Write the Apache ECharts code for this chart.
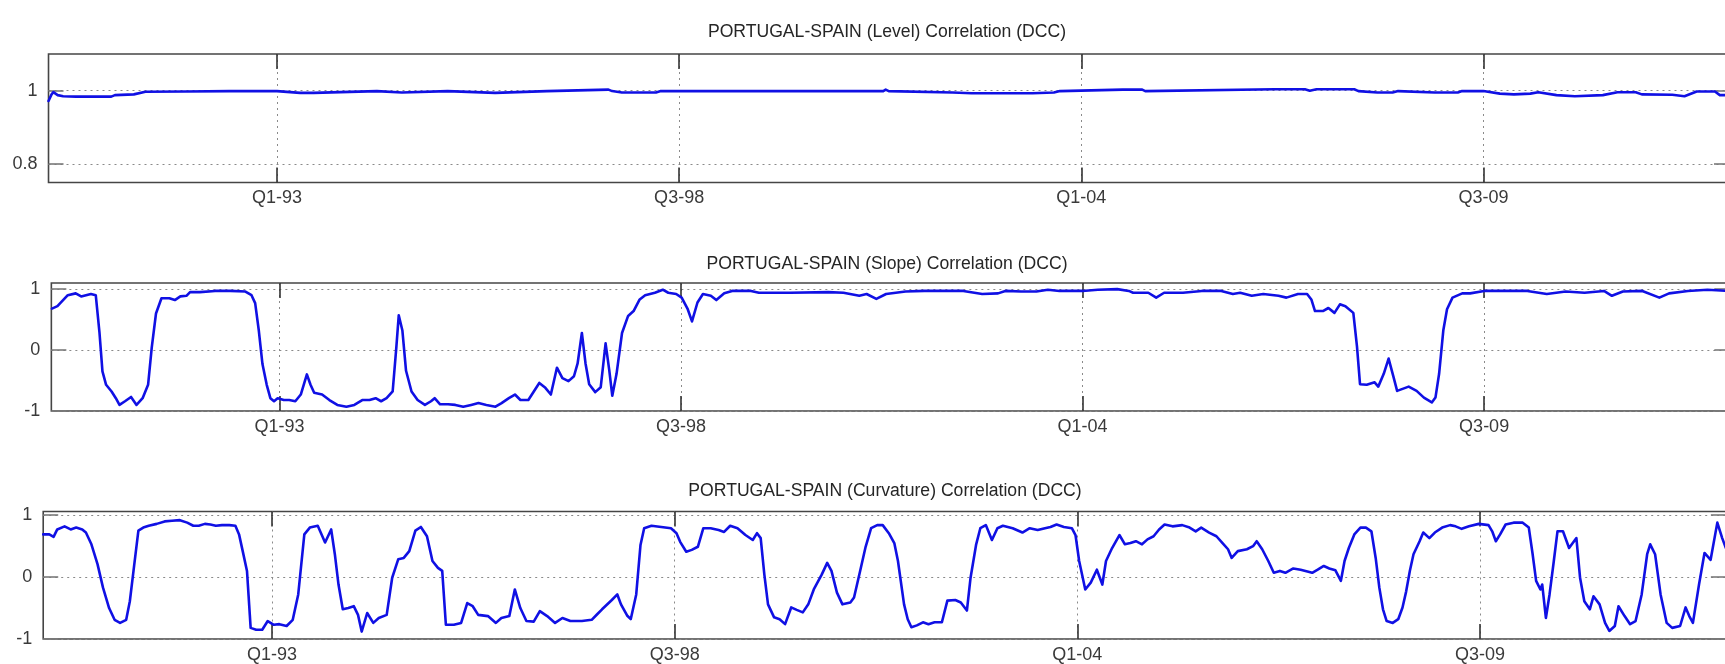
<!DOCTYPE html>
<html>
<head>
<meta charset="utf-8">
<script src="https://cdn.jsdelivr.net/npm/echarts@6/dist/echarts.min.js"></script>
<style>
html,body{margin:0;padding:0;background:#ffffff;}
#chart{width:1725px;height:664px;}
</style>
</head>
<body>
<div id="chart"></div>
<script>
// ---------------- DATA ----------------
// time is expressed in months relative to January 1993 (Q1-93 = 0)
const titles = [
  'PORTUGAL-SPAIN (Level) Correlation (DCC)',
  'PORTUGAL-SPAIN (Slope) Correlation (DCC)',
  'PORTUGAL-SPAIN (Curvature) Correlation (DCC)'
];
const xTickMonths = [0, 66, 132, 198];
const xTickLabels = ['Q1-93', 'Q3-98', 'Q1-04', 'Q3-09'];
const levelTicks = [0.8, 1];
const slopeTicks = [-1, 0, 1];
const curvTicks = [-1, 0, 1];

// [month, correlation]
const levelData = [[-37.5,0.972],[-37,0.99],[-36.7,0.996],[-36,0.988],[-35.1,0.985],[-33,0.984],[-30,0.984],[-27.2,0.984],[-26.6,0.988],[-23.5,0.99],[-21.6,0.997],[-15,0.998],[-7.8,0.999],[0,0.999],[3.8,0.994],[6,0.994],[6.3,0.999],[16.4,0.999],[16.5,0.995],[20.5,0.995],[20.6,0.999],[28,0.999],[28.1,0.994],[35.8,0.994],[36,0.999],[44.3,0.999],[44.4,1.003],[54.4,1.003],[55,0.999],[56.6,0.995],[62.2,0.995],[63,0.999],[68.5,0.999],[68.8,1.003],[69.5,0.999],[72.7,0.999],[73,1.003],[73.5,0.999],[99.5,0.999],[99.9,1.003],[100.4,0.999],[110.9,0.995],[114,0.993],[124,0.993],[127.5,0.995],[128.5,0.999],[138.8,1.003],[142,1.003],[142.5,0.999],[163.7,1.004],[168.7,1.004],[169.5,1.0],[170.6,1.004],[176.8,1.004],[177.5,0.999],[180.6,0.995],[183.1,0.995],[184,0.999],[190,0.995],[193.8,0.995],[194.5,0.999],[198,0.999],[200.7,0.992],[203,0.99],[205.7,0.992],[207,0.996],[210,0.988],[213,0.985],[217.6,0.988],[220,0.996],[223,0.996],[224,0.99],[229,0.989],[231,0.985],[233,0.998],[236,0.998],[236.8,0.988],[238.3,0.988]];

const slopeData = [[-37.4,0.68],[-36.5,0.72],[-34.8,0.9],[-33.5,0.93],[-32.6,0.88],[-31,0.92],[-30.2,0.9],[-29.6,0.3],[-29.1,-0.35],[-28.5,-0.57],[-27.6,-0.68],[-26.9,-0.79],[-26.3,-0.9],[-25.4,-0.84],[-24.4,-0.77],[-23.5,-0.9],[-22.5,-0.79],[-21.6,-0.57],[-21,0.04],[-20.3,0.6],[-19.4,0.85],[-18.1,0.85],[-17.2,0.82],[-16.3,0.88],[-15.3,0.89],[-14.7,0.95],[-13.1,0.95],[-10.6,0.97],[-8.1,0.97],[-5.6,0.96],[-4.6,0.9],[-4,0.77],[-3.4,0.32],[-2.8,-0.23],[-2.1,-0.57],[-1.5,-0.79],[-0.9,-0.84],[-0.3,-0.79],[0.7,-0.82],[1.6,-0.82],[2.6,-0.84],[3.5,-0.73],[4.5,-0.4],[5.1,-0.57],[5.7,-0.7],[7,-0.73],[8.2,-0.82],[9.5,-0.9],[11,-0.93],[12.3,-0.9],[13.6,-0.82],[14.8,-0.82],[15.8,-0.79],[16.7,-0.84],[17.6,-0.79],[18.6,-0.68],[19.2,0.04],[19.6,0.57],[20.2,0.32],[20.8,-0.34],[21.7,-0.68],[22.7,-0.82],[23.9,-0.9],[24.9,-0.84],[25.5,-0.79],[26.4,-0.89],[27.7,-0.89],[28.9,-0.9],[30.2,-0.93],[31.5,-0.9],[32.7,-0.87],[34,-0.9],[35.5,-0.93],[36.5,-0.87],[37.7,-0.79],[38.7,-0.73],[39.6,-0.82],[40.9,-0.82],[41.8,-0.68],[42.7,-0.54],[43.7,-0.62],[44.6,-0.73],[45.6,-0.29],[46.5,-0.46],[47.5,-0.51],[48.4,-0.43],[49,-0.22],[49.7,0.28],[50.3,-0.22],[50.9,-0.56],[51.9,-0.69],[52.8,-0.61],[53.6,0.11],[54.2,-0.33],[54.7,-0.75],[55.4,-0.39],[56.3,0.28],[57.3,0.56],[58.2,0.64],[59.2,0.83],[60.1,0.9],[61.7,0.94],[63,0.99],[63.9,0.94],[65.2,0.92],[66.1,0.86],[67.1,0.67],[67.8,0.47],[68.7,0.78],[69.6,0.92],[70.9,0.89],[71.8,0.82],[73.1,0.93],[74.4,0.97],[77.5,0.97],[78.8,0.94],[83.9,0.94],[90.2,0.95],[92.7,0.94],[95.3,0.89],[96.5,0.92],[98.1,0.84],[99.7,0.92],[102.9,0.96],[106,0.97],[109.2,0.97],[112.4,0.97],[115.5,0.92],[118.1,0.93],[119.3,0.97],[121.9,0.96],[124.4,0.96],[126.3,0.99],[128.2,0.97],[132,0.97],[134.5,0.99],[137.7,1.0],[139.6,0.97],[140.3,0.94],[142.8,0.94],[144.1,0.86],[145.4,0.94],[148.5,0.94],[151.6,0.97],[154.8,0.97],[156.7,0.92],[157.9,0.94],[159.8,0.89],[161.7,0.92],[164.2,0.89],[165.5,0.86],[167.4,0.92],[168.9,0.92],[169.6,0.83],[170.2,0.64],[171.5,0.64],[172.4,0.69],[173.4,0.61],[174.3,0.75],[175.2,0.72],[176.5,0.61],[177.1,0.06],[177.6,-0.56],[178.7,-0.57],[180,-0.53],[180.6,-0.6],[181.5,-0.39],[182.3,-0.14],[183.1,-0.44],[183.7,-0.67],[185.6,-0.6],[186.9,-0.67],[188.1,-0.78],[189.4,-0.86],[190,-0.78],[190.6,-0.39],[191.3,0.33],[191.9,0.67],[192.8,0.86],[194.4,0.93],[195.7,0.93],[198,0.97],[200.7,0.97],[205.1,0.97],[208.3,0.92],[211.4,0.96],[214.5,0.94],[217.7,0.97],[219,0.89],[220.8,0.96],[224,0.97],[226.8,0.86],[228.4,0.93],[231.5,0.97],[234.7,0.99],[238.3,0.97]];

const curvData = [[-37.5,0.69],[-36.5,0.69],[-35.8,0.65],[-35.2,0.77],[-34,0.82],[-33,0.77],[-32.1,0.8],[-31.1,0.77],[-30.5,0.72],[-29.6,0.53],[-28.6,0.21],[-27.7,-0.17],[-26.7,-0.5],[-25.8,-0.69],[-24.9,-0.74],[-23.9,-0.69],[-23.3,-0.39],[-22.7,0.1],[-21.9,0.75],[-21.1,0.8],[-20.2,0.83],[-18.9,0.86],[-17.6,0.9],[-16.4,0.91],[-15.1,0.92],[-13.9,0.88],[-12.9,0.83],[-12,0.83],[-11,0.86],[-10.1,0.85],[-9.2,0.83],[-8.2,0.84],[-7,0.84],[-6,0.83],[-5.4,0.69],[-4.8,0.42],[-4.1,0.1],[-3.5,-0.82],[-2.6,-0.85],[-1.6,-0.85],[-0.7,-0.71],[0.3,-0.77],[1.2,-0.76],[2.4,-0.79],[3.4,-0.69],[4.3,-0.28],[5.3,0.69],[6.2,0.8],[7.5,0.83],[8.7,0.56],[9.7,0.77],[10.3,0.37],[10.9,-0.12],[11.6,-0.52],[12.5,-0.5],[13.4,-0.47],[14.1,-0.61],[14.7,-0.88],[15.6,-0.58],[16.6,-0.74],[17.5,-0.66],[18.8,-0.61],[19.7,-0.01],[20.7,0.29],[21.6,0.31],[22.5,0.42],[23.5,0.75],[24.4,0.81],[25.4,0.66],[26.3,0.26],[27.2,0.15],[27.9,0.1],[28.5,-0.77],[29.8,-0.77],[31,-0.74],[32,-0.42],[32.9,-0.47],[33.8,-0.61],[35.4,-0.63],[36.7,-0.74],[37.6,-0.66],[38.9,-0.63],[39.8,-0.2],[40.7,-0.5],[41.7,-0.71],[42.9,-0.72],[43.9,-0.55],[45.1,-0.63],[46.4,-0.74],[47.6,-0.66],[48.9,-0.71],[50.8,-0.71],[52.4,-0.69],[53.3,-0.6],[54.1,-0.52],[55.7,-0.37],[56.6,-0.28],[57.2,-0.44],[58.2,-0.62],[58.8,-0.68],[59.7,-0.28],[60.4,0.52],[61,0.79],[62.2,0.83],[63.8,0.81],[65.4,0.79],[66.3,0.71],[66.9,0.57],[67.9,0.41],[68.8,0.44],[69.8,0.49],[70.7,0.79],[71.9,0.79],[73.2,0.76],[74.1,0.73],[75.1,0.83],[76.3,0.79],[77.6,0.68],[78.8,0.6],[79.5,0.71],[80.1,0.63],[80.7,0.04],[81.3,-0.44],[82.3,-0.65],[83.2,-0.68],[84.1,-0.76],[85.1,-0.49],[86,-0.53],[87,-0.57],[87.9,-0.44],[88.8,-0.2],[90.1,0.04],[91,0.23],[91.7,0.1],[92.6,-0.25],[93.5,-0.44],[94.8,-0.41],[95.4,-0.33],[96.4,0.1],[97.3,0.49],[98.2,0.79],[99.2,0.84],[100.1,0.84],[101.1,0.71],[102,0.55],[102.6,0.26],[103.6,-0.44],[104.2,-0.68],[104.8,-0.81],[105.7,-0.78],[106.7,-0.73],[107.6,-0.76],[108.6,-0.73],[109.8,-0.73],[110.7,-0.38],[112,-0.37],[112.9,-0.41],[113.9,-0.54],[114.5,-0.01],[115.4,0.52],[116.1,0.79],[117,0.84],[118,0.6],[118.9,0.79],[119.8,0.83],[121.4,0.79],[123,0.72],[124.2,0.79],[125.5,0.76],[126.7,0.79],[127.6,0.81],[128.6,0.85],[129.8,0.81],[131.1,0.79],[131.7,0.68],[132.3,0.26],[133.3,-0.2],[134.2,-0.09],[135.2,0.12],[136.1,-0.12],[136.7,0.26],[137.7,0.47],[138.9,0.68],[139.8,0.53],[140.7,0.55],[141.6,0.58],[142.6,0.53],[143.5,0.61],[144.5,0.66],[145.4,0.77],[146.3,0.85],[147.6,0.82],[149.2,0.84],[150.4,0.8],[151.4,0.74],[152.3,0.8],[153.6,0.72],[154.8,0.66],[155.8,0.55],[156.7,0.45],[157.3,0.31],[158.3,0.42],[159.8,0.45],[160.8,0.5],[161.4,0.58],[162.3,0.45],[163.3,0.26],[164.2,0.07],[165.2,0.1],[166.1,0.07],[167.4,0.14],[168.6,0.12],[170.5,0.07],[171.4,0.12],[172.4,0.18],[173.3,0.14],[174.3,0.11],[175.2,-0.06],[175.8,0.26],[176.5,0.47],[177.4,0.69],[178.4,0.8],[179.3,0.8],[180.2,0.74],[180.9,0.31],[181.5,-0.17],[182.1,-0.52],[182.7,-0.71],[183.7,-0.74],[184.6,-0.68],[185.3,-0.49],[185.9,-0.23],[186.5,0.1],[187.1,0.37],[188.1,0.58],[188.7,0.72],[189.7,0.63],[190.6,0.72],[191.8,0.8],[193.1,0.84],[194,0.82],[195,0.78],[196.2,0.82],[197.8,0.86],[199.4,0.84],[200,0.74],[200.6,0.58],[201.3,0.69],[202.2,0.85],[203.5,0.88],[205,0.88],[206,0.8],[206.6,0.39],[207.2,-0.06],[207.9,-0.2],[208.2,-0.12],[208.8,-0.66],[209.4,-0.28],[210.1,0.26],[210.7,0.74],[211.6,0.74],[212.6,0.47],[213.2,0.55],[213.8,0.63],[214.4,-0.01],[215.1,-0.39],[216,-0.52],[216.6,-0.31],[217.6,-0.44],[218.5,-0.74],[219.2,-0.87],[220.1,-0.79],[220.7,-0.47],[221.7,-0.63],[222.6,-0.76],[223.5,-0.71],[224.5,-0.28],[225.4,0.37],[225.9,0.53],[226.7,0.37],[227.6,-0.28],[228.6,-0.74],[229.5,-0.82],[230.8,-0.79],[231.7,-0.49],[232.3,-0.63],[232.9,-0.74],[233.9,-0.12],[234.8,0.39],[235.8,0.28],[236.9,0.88],[237.7,0.63],[238.3,0.47]];

// ---------------- LAYOUT ----------------
const X_MIN = -37.5, X_MAX = 238.3;
const FONT = '"Liberation Sans", Arial, Helvetica, sans-serif';
const LINE_COLOR = '#1010e4';
const layout = [
  { x0: 277,   ppm: 6.093, top: 54,    height: 128.5, yMin: 0.75, yMax: 1.1,  ticks: levelTicks, titleX: 887, titleY: 32,  lw: 2.6 },
  { x0: 279.5, ppm: 6.084, top: 283,   height: 128,   yMin: -1,   yMax: 1.1,  ticks: slopeTicks, titleX: 887, titleY: 264, lw: 2.6 },
  { x0: 272,   ppm: 6.101, top: 511.5, height: 127.5, yMin: -1,   yMax: 1.06, ticks: curvTicks,  titleX: 885, titleY: 491, lw: 2.6 }
];
const seriesData = [levelData, slopeData, curvData];

const grid = [], xAxis = [], yAxis = [], series = [], graphic = [];
layout.forEach((L, i) => {
  grid.push({
    left: L.x0 + X_MIN * L.ppm, top: L.top,
    width: (X_MAX - X_MIN) * L.ppm, height: L.height,
    show: true, borderColor: '#454545', borderWidth: 1.6, backgroundColor: '#ffffff',
    containLabel: false, outerBoundsMode: 'none'
  });
  const tickStyleX = { color: '#333333', width: 1.6 };
  const tickStyleY = { color: '#7a7a7a', width: 1.6 };
  const noLine = { show: false, onZero: false };
  xAxis.push({
    type: 'value', gridIndex: i, min: X_MIN, max: X_MAX, position: 'bottom',
    axisLine: noLine,
    axisTick: { show: true, inside: true, length: 15, customValues: xTickMonths, lineStyle: tickStyleX },
    axisLabel: {
      show: true, customValues: xTickMonths, margin: 7,
      fontFamily: FONT, fontSize: 18, color: '#3a3a3a',
      formatter: v => { const k = xTickMonths.indexOf(Math.round(v)); return k >= 0 ? xTickLabels[k] : ''; }
    },
    splitLine: { show: true, lineStyle: { color: '#8a8a8a', width: 1, type: [2, 4] } }
  });
  xAxis.push({
    type: 'value', gridIndex: i, min: X_MIN, max: X_MAX, position: 'top',
    axisLine: noLine,
    axisTick: { show: true, inside: true, length: 15, customValues: xTickMonths, lineStyle: tickStyleX },
    axisLabel: { show: false }, splitLine: { show: false }
  });
  yAxis.push({
    type: 'value', gridIndex: i, min: L.yMin, max: L.yMax, position: 'left',
    axisLine: noLine,
    axisTick: { show: true, inside: true, length: 15, customValues: L.ticks, lineStyle: tickStyleY },
    axisLabel: {
      show: true, customValues: L.ticks, margin: 11,
      fontFamily: FONT, fontSize: 18, color: '#3a3a3a',
      formatter: v => String(v)
    },
    splitLine: { show: true, lineStyle: { color: '#8a8a8a', width: 1, type: [2, 4] } }
  });
  yAxis.push({
    type: 'value', gridIndex: i, min: L.yMin, max: L.yMax, position: 'right',
    axisLine: noLine,
    axisTick: { show: true, inside: true, length: 15, customValues: L.ticks, lineStyle: tickStyleY },
    axisLabel: { show: false }, splitLine: { show: false }
  });
  series.push({
    type: 'line', xAxisIndex: 2 * i, yAxisIndex: 2 * i,
    data: seriesData[i], showSymbol: false, symbol: 'none', clip: true,
    lineStyle: { color: LINE_COLOR, width: L.lw, join: 'round', cap: 'round' }, silent: true
  });
  graphic.push({
    type: 'text', x: L.titleX, y: L.titleY,
    style: {
      text: titles[i], font: '17.6px ' + FONT, fill: '#262626',
      align: 'center', verticalAlign: 'middle',
      textAlign: 'center', textVerticalAlign: 'middle'
    }
  });
});

const chart = echarts.init(document.getElementById('chart'), null, { renderer: 'canvas' });
chart.setOption({
  backgroundColor: '#ffffff',
  animation: false,
  textStyle: { fontFamily: FONT },
  grid, xAxis, yAxis, series, graphic
});
</script>
</body>
</html>
